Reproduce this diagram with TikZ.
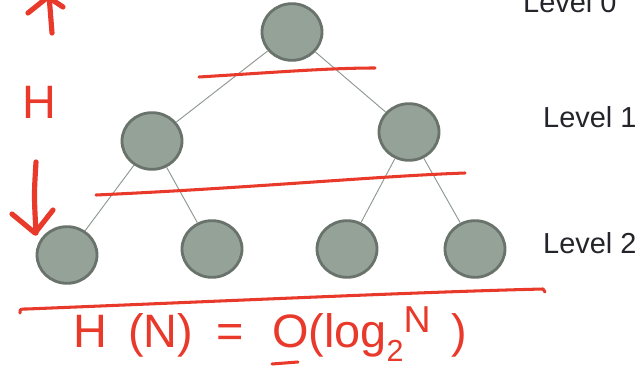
\documentclass[tikz,border=0pt]{standalone}
\usepackage{fontspec}
\setmainfont{Liberation Sans}
\usetikzlibrary{shapes.geometric}
\definecolor{nodefill}{HTML}{95A298}
\definecolor{nodeline}{HTML}{69736C}
\definecolor{edgegray}{HTML}{8E9891}
\definecolor{inkred}{HTML}{E8392A}
\definecolor{labelgray}{HTML}{24252B}
\tikzset{
  vertex/.style={ellipse, draw=nodeline, fill=nodefill, line width=2.4pt,
    minimum width=1.8cm, minimum height=1.7cm, inner sep=0pt},
  edge/.style={draw=edgegray, line width=0.8pt},
  levellabel/.style={anchor=base west, text=labelgray, inner sep=0pt,
    font=\fontsize{24.7}{28}\selectfont},
  ink/.style={draw=inkred, line width=2.6pt, line cap=round, line join=round},
  thickink/.style={ink, line width=4.4pt},
  inktext/.style={text=inkred, inner sep=0pt, font=\fontsize{40}{44}\selectfont}
}
\begin{document}
\begin{tikzpicture}[x=0.03cm, y=-0.03cm]
      \useasboundingbox (0, 0) rectangle (640, 367);
      % tree
      \node[vertex] (R) at (292, 32) {};
      \node[vertex] (A) at (152, 141) {};
      \node[vertex] (B) at (409, 132) {};
      \node[vertex] (A1) at (67, 255) {};
      \node[vertex] (A2) at (212, 249) {};
      \node[vertex] (B1) at (347, 249) {};
      \node[vertex] (B2) at (475, 249) {};
      \draw[edge] (R) -- (A);
      \draw[edge] (R) -- (B);
      \draw[edge] (A) -- (A1);
      \draw[edge] (A) -- (A2);
      \draw[edge] (B) -- (B1);
      \draw[edge] (B) -- (B2);
      % levels
      \node[levellabel] (L0) at (523, 13) {Level 0};
      \node[levellabel] (L1) at (543, 127) {Level 1};
      \node[levellabel] (L2) at (543, 253) {Level 2};
      % red ink
      \draw[ink] (199, 77) .. controls (280, 72) and (330, 68) .. (375, 68);
      \draw[ink] (96, 195) .. controls (250, 188) and (380, 176) .. (465, 173);
      \draw[ink] (20, 313) .. controls (20, 309) .. (27, 309)
        .. controls (250, 300) and (420, 292) .. (543, 289) -- (545, 292);
      \draw[thickink] (52, 33) -- (49, -5);
      \draw[thickink] (28, 13) -- (48, -3) -- (63, 7);
      \draw[thickink] (36, 162) .. controls (34, 195) .. (36, 233);
      \draw[thickink] (12, 214) -- (35, 233) -- (53, 210);
      \node[inktext] (H) at (39, 102) {H};
      \node[inktext, anchor=base west] (HN) at (73, 347)
        {H\hspace{0.45em}(N)\hspace{0.5em}=\hspace{0.6em}O(log\raisebox{-0.3em}{\fontsize{26}{26}\selectfont 2}\raisebox{0.3em}{\fontsize{32}{32}\selectfont N}\hspace{0.45em})};
      \draw[ink] (272, 364) -- (298, 362);
\end{tikzpicture}
\end{document}
